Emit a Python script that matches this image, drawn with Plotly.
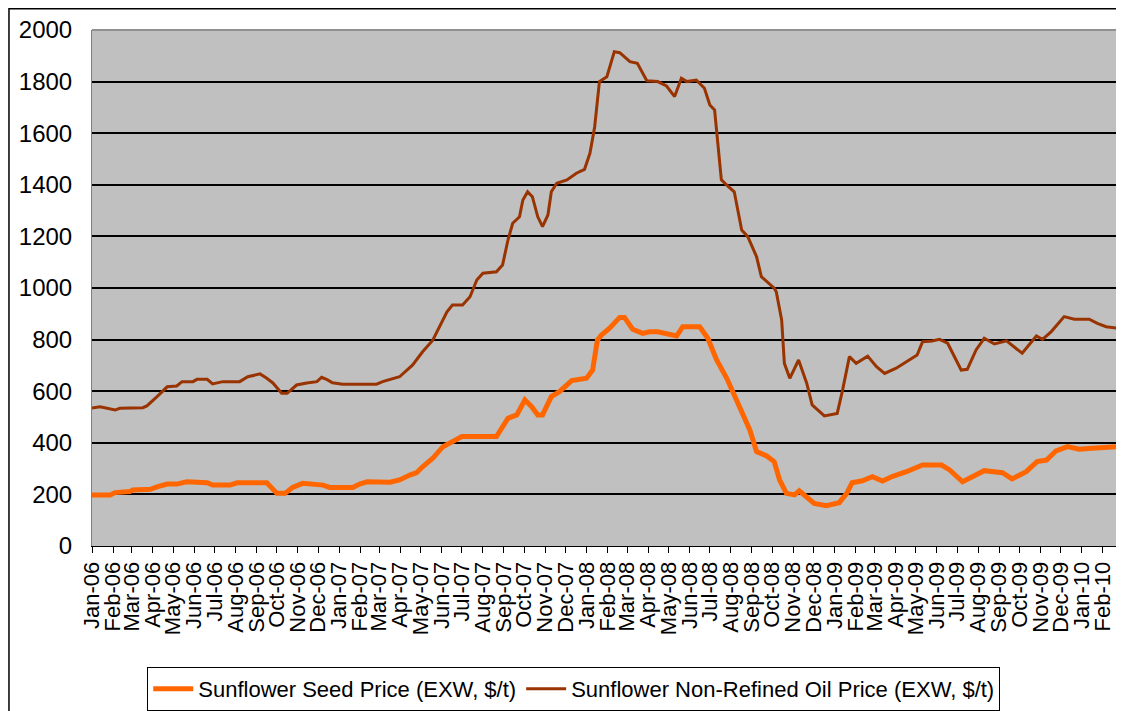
import plotly.graph_objects as go

# sunflower seed price, EXW $/t
seed_dates = [
    "2006-01-01", "2006-01-28", "2006-02-04", "2006-02-26", "2006-03-02", "2006-03-28",
    "2006-04-08", "2006-04-22", "2006-05-06", "2006-05-21", "2006-06-20", "2006-06-28",
    "2006-07-24", "2006-08-03", "2006-09-16", "2006-10-01", "2006-10-13", "2006-10-24",
    "2006-11-08", "2006-11-23", "2006-12-08", "2006-12-18", "2007-01-21", "2007-01-31",
    "2007-02-11", "2007-03-17", "2007-03-31", "2007-04-15", "2007-04-25", "2007-05-04",
    "2007-05-19", "2007-06-03", "2007-06-17", "2007-07-01", "2007-08-21", "2007-08-30",
    "2007-09-07", "2007-09-20", "2007-10-02", "2007-10-12", "2007-10-21", "2007-10-28",
    "2007-11-10", "2007-11-22", "2007-12-10", "2008-01-01", "2008-01-10", "2008-01-17",
    "2008-01-23", "2008-02-04", "2008-02-19", "2008-02-26", "2008-03-09", "2008-03-24",
    "2008-04-03", "2008-04-15", "2008-05-03", "2008-05-13", "2008-05-22", "2008-06-16",
    "2008-06-28", "2008-07-11", "2008-07-26", "2008-08-03", "2008-08-14", "2008-08-29",
    "2008-09-08", "2008-09-23", "2008-10-04", "2008-10-12", "2008-10-22", "2008-11-03",
    "2008-11-10", "2008-11-21", "2008-12-02", "2008-12-20", "2009-01-08", "2009-01-19",
    "2009-01-27", "2009-02-11", "2009-02-26", "2009-03-13", "2009-03-27", "2009-04-17",
    "2009-05-11", "2009-06-08", "2009-06-20", "2009-07-09", "2009-07-23", "2009-08-10",
    "2009-09-06", "2009-09-20", "2009-10-11", "2009-10-27", "2009-11-10", "2009-11-24",
    "2009-12-11", "2009-12-28", "2010-01-16", "2010-02-22",
]
seed_price = [
    198, 198, 207, 211, 217, 220,
    230, 240, 240, 249, 245, 236,
    236, 245, 245, 204, 204, 227,
    243, 240, 236, 227, 227, 240,
    249, 247, 256, 275, 284, 307,
    340, 385, 404, 424, 424, 462,
    495, 508, 566, 540, 508, 508,
    579, 598, 641, 650, 682, 798,
    818, 844, 886, 886, 840, 824,
    830, 830, 818, 814, 850, 850,
    805, 721, 650, 605, 540, 450,
    366, 349, 327, 256, 204, 198,
    214, 191, 165, 156, 168, 204,
    245, 253, 269, 252, 269, 288,
    314, 314, 295, 249, 269, 292,
    284, 260, 288, 327, 333, 369,
    385, 375, 379, 385,
]

# sunflower non-refined oil price, EXW $/t
oil_dates = [
    "2006-01-01", "2006-01-13", "2006-02-04", "2006-02-11", "2006-03-17", "2006-03-23",
    "2006-04-07", "2006-04-22", "2006-05-06", "2006-05-14", "2006-05-30", "2006-06-05",
    "2006-06-20", "2006-06-28", "2006-07-13", "2006-08-07", "2006-08-19", "2006-09-06",
    "2006-09-16", "2006-09-25", "2006-10-08", "2006-10-16", "2006-10-30", "2006-11-14",
    "2006-11-29", "2006-12-06", "2006-12-14", "2006-12-22", "2007-01-06", "2007-02-25",
    "2007-03-06", "2007-03-31", "2007-04-19", "2007-05-04", "2007-05-19", "2007-06-09",
    "2007-06-17", "2007-07-02", "2007-07-13", "2007-07-23", "2007-08-01", "2007-08-21",
    "2007-08-30", "2007-09-07", "2007-09-14", "2007-09-24", "2007-09-29", "2007-10-06",
    "2007-10-13", "2007-10-21", "2007-10-28", "2007-11-05", "2007-11-10", "2007-11-18",
    "2007-12-03", "2007-12-17", "2007-12-29", "2008-01-06", "2008-01-13", "2008-01-17",
    "2008-01-20", "2008-01-31", "2008-02-07", "2008-02-11", "2008-02-19", "2008-03-05",
    "2008-03-16", "2008-03-30", "2008-04-15", "2008-04-28", "2008-05-10", "2008-05-20",
    "2008-05-28", "2008-06-11", "2008-06-23", "2008-07-01", "2008-07-08", "2008-07-12",
    "2008-07-18", "2008-07-26", "2008-08-06", "2008-08-17", "2008-08-26", "2008-09-08",
    "2008-09-15", "2008-10-04", "2008-10-07", "2008-10-15", "2008-10-19", "2008-10-27",
    "2008-11-09", "2008-11-21", "2008-11-29", "2008-12-17", "2009-01-05", "2009-01-13",
    "2009-01-23", "2009-02-02", "2009-02-19", "2009-03-04", "2009-03-16", "2009-04-02",
    "2009-04-17", "2009-05-03", "2009-05-11", "2009-05-25", "2009-06-05", "2009-06-17",
    "2009-07-07", "2009-07-16", "2009-07-29", "2009-08-10", "2009-08-25", "2009-09-12",
    "2009-10-05", "2009-10-26", "2009-11-04", "2009-11-17", "2009-12-06", "2009-12-21",
    "2010-01-12", "2010-01-24", "2010-02-06", "2010-02-22",
]
oil_price = [
    535, 540, 527, 534, 536, 543,
    579, 617, 620, 637, 637, 646,
    646, 628, 637, 637, 656, 667,
    650, 632, 592, 592, 624, 632,
    637, 654, 645, 633, 627, 627,
    637, 656, 701, 753, 798, 908,
    934, 934, 966, 1031, 1057, 1063,
    1089, 1186, 1251, 1276, 1341, 1373,
    1354, 1276, 1238, 1283, 1373, 1406,
    1419, 1445, 1460, 1522, 1625, 1729,
    1800, 1819, 1877, 1916, 1912, 1877,
    1871, 1803, 1800, 1783, 1742, 1813,
    1800, 1806, 1774, 1709, 1690, 1574,
    1419, 1399, 1373, 1225, 1199, 1121,
    1044, 999, 986, 876, 708, 650,
    721, 631, 547, 504, 514, 605,
    734, 708, 736, 695, 669, 689,
    714, 740, 792, 795, 801, 786,
    682, 685, 760, 805, 783, 795,
    747, 814, 801, 831, 889, 879,
    879, 863, 850, 844,
]

x_start, x_end = "2006-01-01", "2010-02-22"
y_ticks = list(range(0, 2001, 200))

fig = go.Figure()
fig.add_trace(go.Scatter(
    x=seed_dates, y=seed_price, mode="lines",
    name="Sunflower Seed Price (EXW, $/t)",
    line=dict(color="#FF6600", width=5),
))
fig.add_trace(go.Scatter(
    x=oil_dates, y=oil_price, mode="lines",
    name="Sunflower Non-Refined Oil Price (EXW, $/t)",
    line=dict(color="#993300", width=3),
))

# page body adds an 8px offset, so the figure is sized to what remains visible
fig.update_layout(
    width=1116, height=703,
    margin=dict(l=84, r=7, t=22, b=165, autoexpand=False),
    paper_bgcolor="white",
    plot_bgcolor="#C0C0C0",
    font=dict(family="Liberation Sans, Arial, sans-serif", color="black"),
    showlegend=True,
    legend=dict(
        orientation="h", x=0.47, y=-0.277, xanchor="center", yanchor="middle",
        bgcolor="white", bordercolor="black", borderwidth=1,
        font=dict(size=22), itemwidth=40,
    ),
    xaxis=dict(
        type="date", range=[x_start, x_end],
        tick0=x_start, dtick="M1", tickformat="%b-%y", tickangle=-90,
        ticks="outside", ticklen=6, tickcolor="black",
        showline=True, linecolor="black", linewidth=1,
        showgrid=False, zeroline=False,
        tickfont=dict(size=22),
    ),
    yaxis=dict(
        range=[0, 2000], tickvals=y_ticks,
        showgrid=True, gridcolor="black", gridwidth=1.5,
        showline=True, linecolor="#808080", linewidth=1, mirror=True,
        zeroline=False, ticks="", ticklabelstandoff=14,
        tickfont=dict(size=24),
    ),
    shapes=[
        # grey frame on top of plot area
        dict(type="line", xref="paper", yref="paper", x0=0, x1=1, y0=1, y1=1,
             line=dict(color="#909090", width=2), layer="above"),
        # outer chart border
        dict(type="rect", xref="paper", yref="paper", x0=-0.0810, x1=1.02,
             y0=-0.4, y1=1.0413, line=dict(color="black", width=1.5),
             fillcolor="rgba(0,0,0,0)", layer="below"),
    ],
)

fig.write_html("out.html")
